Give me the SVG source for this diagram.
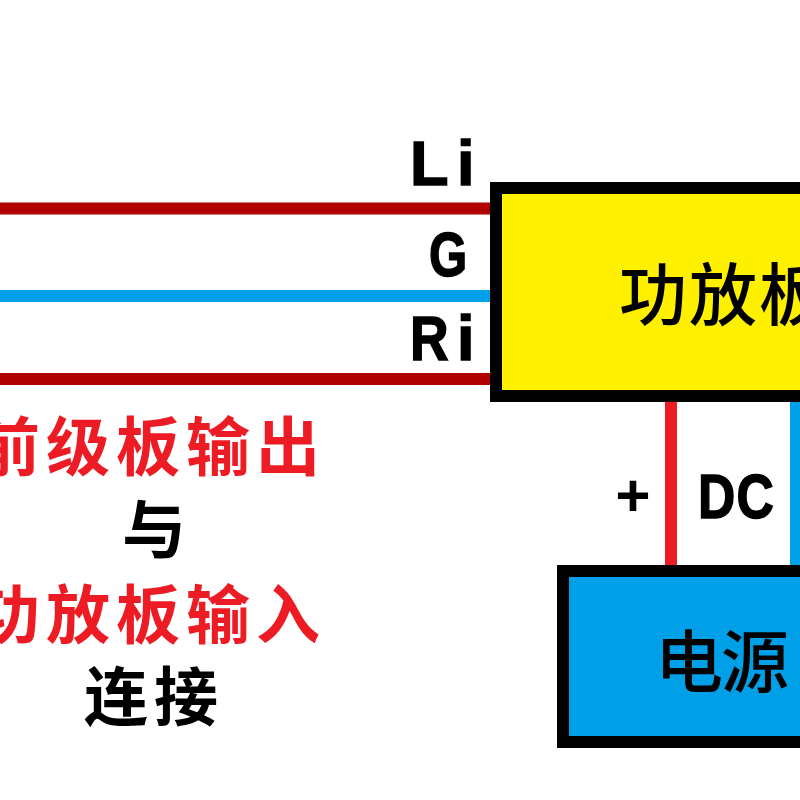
<svg xmlns="http://www.w3.org/2000/svg" width="800" height="800" viewBox="0 0 800 800">
<style>
.cn{font-family:"Noto Sans CJK SC",sans-serif;font-weight:700}
.m{font-weight:500;fill:#000}
.red{fill:#ed1c24;font-size:64px}
.blk{fill:#000;font-size:64px}
.lat{font-family:"Liberation Sans",Arial,sans-serif;font-weight:700;fill:#000;stroke:#000;stroke-width:1.500px;font-size:63px}
.pl{font-family:"Liberation Mono",monospace;font-weight:700;fill:#000;font-size:60px}
.w{fill:none;stroke-width:12}
.box{stroke:#000;stroke-width:12}
</style>
<rect width="800" height="800" fill="#fff"/>
<g id="connectors">
<path class="w" d="M0 208.500H495" stroke="#b00000"/>
<path class="w" d="M0 296H495" stroke="#00a0e9"/>
<path class="w" d="M0 379H495" stroke="#b00000"/>
<path class="w" d="M671 400V568" stroke="#ed1c24"/>
<path class="w" d="M796 400V568" stroke="#00a0e9"/>
</g>
<g id="amp">
<rect class="box" x="496" y="188" width="320" height="208" fill="#fff000"/>
<text class="cn m" x="619 689 759" y="320" font-size="68">功放板</text>
</g>
<g id="power">
<rect class="box" x="563" y="571" width="260" height="171" fill="#00a0e9"/>
<text class="cn m" x="655 721" y="687" font-size="68">电源</text>
</g>
<g id="labels">
<text class="lat" x="410 457" y="185">Li</text>
<text class="lat" transform="translate(429 276) scale(.78 1)">G</text>
<text class="lat" x="457" y="360">i</text>
<text class="lat" transform="translate(410 360) scale(.85 1)">R</text>
<text class="pl" x="615" y="516">+</text>
<text class="lat" transform="translate(698 518) scale(.82 1)" x="0 47">DC</text>
<text class="cn red" x="-24 46 116 186 256" y="470">前级板输出</text>
<text class="cn blk" x="122" y="553">与</text>
<text class="cn red" x="-24 46 116 186 256" y="638">功放板输入</text>
<text class="cn blk" x="84 154" y="720">连接</text>
</g>
</svg>
